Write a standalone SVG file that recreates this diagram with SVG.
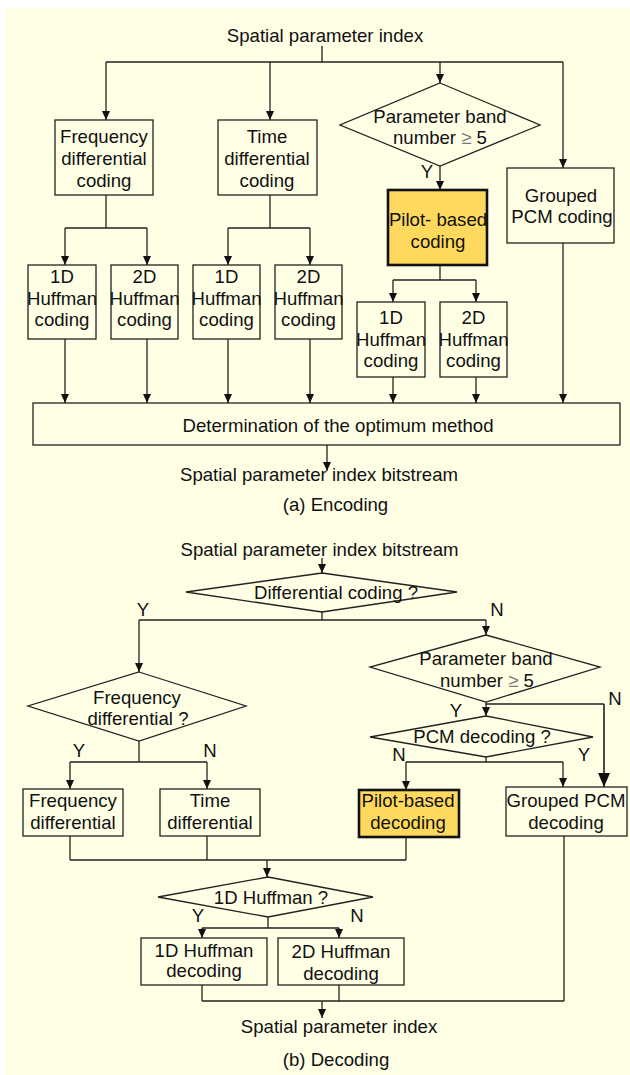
<svg xmlns="http://www.w3.org/2000/svg" width="630" height="1075" viewBox="0 0 630 1075">
<style>
text{font-family:"Liberation Sans",Arial,sans-serif;font-size:18.6px;fill:#111;text-anchor:middle}
.b{fill:#FFFFE6;stroke:#222;stroke-width:1.3}
.p{fill:#FFD95E;stroke:#111;stroke-width:2.6}
.l{fill:none;stroke:#222;stroke-width:1.3}
.a{fill:none;stroke:#222;stroke-width:1.3;marker-end:url(#ah)}
.A{fill:none;stroke:#222;stroke-width:1.6;marker-end:url(#AH)}
</style>
<defs>
<marker id="ah" markerUnits="userSpaceOnUse" viewBox="0 0 9 8" refX="9" refY="4" markerWidth="9" markerHeight="8" orient="auto"><path d="M0,0 L9,4 L0,8 z" fill="#111"/></marker>
<marker id="AH" markerUnits="userSpaceOnUse" viewBox="0 0 14 12" refX="14" refY="6" markerWidth="14" markerHeight="12" orient="auto"><path d="M0,0 L14,6 L0,12 z" fill="#111"/></marker>
</defs>
<rect x="0" y="0" width="630" height="1075" fill="#fff"/>
<rect x="6" y="8" width="624" height="1067" fill="#FFFFE6"/>

<g id="connectors">
<path class="l" d="M322,46 V62 M106,62 H563"/>
<path class="a" d="M106,62 V120"/>
<path class="a" d="M270,62 V120"/>
<path class="a" d="M440,62 V83"/>
<path class="a" d="M563,62 V168"/>
<path class="l" d="M106,195 V228 M65,228 H147"/>
<path class="a" d="M65,228 V265"/>
<path class="a" d="M147,228 V265"/>
<path class="l" d="M270,195 V228 M228,228 H310"/>
<path class="a" d="M228,228 V265"/>
<path class="a" d="M310,228 V265"/>
<path class="a" d="M440,166 V190"/>
<path class="l" d="M440,265 V280 M393,280 H476"/>
<path class="a" d="M393,280 V302"/>
<path class="a" d="M476,280 V302"/>
<path class="a" d="M65,339 V403"/>
<path class="a" d="M147,339 V403"/>
<path class="a" d="M228,339 V403"/>
<path class="a" d="M310,339 V403"/>
<path class="a" d="M393,377 V403"/>
<path class="a" d="M476,377 V403"/>
<path class="a" d="M563,243 V403"/>
<path class="a" d="M327,445 V471"/>

<path class="a" d="M322,558 V573"/>
<path class="l" d="M322,612 V620 M139,620 H486"/>
<path class="a" d="M139,620 V672"/>
<path class="a" d="M486,620 V635"/>
<path class="l" d="M139,741 V762 M70,762 H207"/>
<path class="a" d="M70,762 V789"/>
<path class="a" d="M207,762 V789"/>
<path class="a" d="M486,702 V716"/>
<path class="l" d="M486,704 H604"/>
<path class="A" d="M604,704 V787"/>
<path class="l" d="M486,757 V762 M406,762 H563"/>
<path class="a" d="M406,762 V790"/>
<path class="a" d="M563,762 V787"/>
<path class="l" d="M70,836 V860 M207,836 V860 M406,837 V860 M70,860 H406"/>
<path class="a" d="M267,860 V877"/>
<path class="l" d="M268,917 V928 M202,928 H339"/>
<path class="a" d="M202,928 V938"/>
<path class="a" d="M339,928 V938"/>
<path class="l" d="M202,985 V1001 M339,985 V1001 M564,836 V1001 M202,1001 H564"/>
<path class="a" d="M322,1001 V1018"/>
</g>

<g id="enc-title"><text x="325" y="42">Spatial parameter index</text></g>
<g id="enc-freq"><rect class="b" x="55" y="120" width="98" height="75"/><text x="104" y="143">Frequency</text><text x="104" y="165">differential</text><text x="104" y="187">coding</text></g>
<g id="enc-time"><rect class="b" x="218" y="120" width="99" height="75"/><text x="267" y="143">Time</text><text x="267" y="165">differential</text><text x="267" y="187">coding</text></g>
<g id="enc-band"><polygon class="b" points="440,83 540,125 440,166 340,125"/><text x="440" y="123">Parameter band</text><text x="440" y="144">number <tspan fill="#777">≥</tspan> 5</text><text x="427" y="178">Y</text></g>
<g id="enc-pilot"><rect class="p" x="388" y="190" width="99" height="75"/><text x="438" y="226">Pilot- based</text><text x="438" y="248">coding</text></g>
<g id="enc-pcm"><rect class="b" x="507" y="168" width="107" height="75"/><text x="561" y="202">Grouped</text><text x="562" y="223">PCM coding</text></g>
<g id="enc-h1"><rect class="b" x="28" y="265" width="68" height="74"/><text x="62" y="283">1D</text><text x="62" y="304.5">Huffman</text><text x="62" y="326">coding</text></g>
<g id="enc-h2"><rect class="b" x="111" y="265" width="67" height="74"/><text x="144.5" y="283">2D</text><text x="144.5" y="304.5">Huffman</text><text x="144.5" y="326">coding</text></g>
<g id="enc-h3"><rect class="b" x="193" y="265" width="67" height="74"/><text x="226.5" y="283">1D</text><text x="226.5" y="304.5">Huffman</text><text x="226.5" y="326">coding</text></g>
<g id="enc-h4"><rect class="b" x="275" y="265" width="67" height="74"/><text x="308.5" y="283">2D</text><text x="308.5" y="304.5">Huffman</text><text x="308.5" y="326">coding</text></g>
<g id="enc-h5"><rect class="b" x="357" y="302" width="68" height="75"/><text x="391" y="324">1D</text><text x="391" y="346">Huffman</text><text x="391" y="367">coding</text></g>
<g id="enc-h6"><rect class="b" x="440" y="302" width="67" height="75"/><text x="473.5" y="324">2D</text><text x="473.5" y="346">Huffman</text><text x="473.5" y="367">coding</text></g>
<g id="enc-det"><rect class="b" x="33" y="403" width="587" height="42"/><text x="338" y="432">Determination of the optimum method</text></g>
<g id="enc-out"><text x="319" y="481">Spatial parameter index bitstream</text></g>
<g id="cap-a"><text x="335.5" y="511">(a) Encoding</text></g>

<g id="dec-title"><text x="319.5" y="556">Spatial parameter index bitstream</text></g>
<g id="dec-diff"><polygon class="b" points="322,573 457,592 322,612 186,592"/><text x="336" y="599">Differential coding ?</text><text x="143" y="616">Y</text><text x="497" y="616">N</text></g>
<g id="dec-freqq"><polygon class="b" points="139,672 246,706 139,741 28,706"/><text x="137" y="704">Frequency</text><text x="138" y="725">differential ?</text><text x="79" y="757">Y</text><text x="210" y="757">N</text></g>
<g id="dec-band"><polygon class="b" points="486,635 600,667 486,702 370,667"/><text x="486" y="665">Parameter band</text><text x="487" y="687">number <tspan fill="#777">≥</tspan> 5</text><text x="615" y="705">N</text><text x="456" y="717">Y</text></g>
<g id="dec-pcmq"><polygon class="b" points="486,716 593,737 486,757 370,737"/><text x="482" y="743">PCM decoding ?</text><text x="399" y="761">N</text><text x="584" y="761">Y</text></g>
<g id="dec-freq"><rect class="b" x="23" y="789" width="100" height="47"/><text x="73" y="807">Frequency</text><text x="73" y="829">differential</text></g>
<g id="dec-time"><rect class="b" x="160" y="789" width="100" height="47"/><text x="210" y="807">Time</text><text x="210" y="829">differential</text></g>
<g id="dec-pilot"><rect class="p" x="359" y="790" width="100" height="47"/><text x="408" y="807">Pilot-based</text><text x="408" y="829">decoding</text></g>
<g id="dec-pcm"><rect class="b" x="506" y="787" width="121" height="49"/><text x="566" y="807">Grouped PCM</text><text x="566" y="829">decoding</text></g>
<g id="dec-hq"><polygon class="b" points="268,877 373,897 268,917 158,897"/><text x="271" y="904">1D Huffman ?</text><text x="198" y="922">Y</text><text x="357" y="922">N</text></g>
<g id="dec-h1"><rect class="b" x="141" y="938" width="126" height="47"/><text x="204" y="957">1D Huffman</text><text x="204" y="977">decoding</text></g>
<g id="dec-h2"><rect class="b" x="278" y="938" width="126" height="47"/><text x="341" y="958">2D Huffman</text><text x="341" y="980">decoding</text></g>
<g id="dec-out"><text x="339" y="1033">Spatial parameter index</text></g>
<g id="cap-b"><text x="336" y="1066">(b) Decoding</text></g>
</svg>
